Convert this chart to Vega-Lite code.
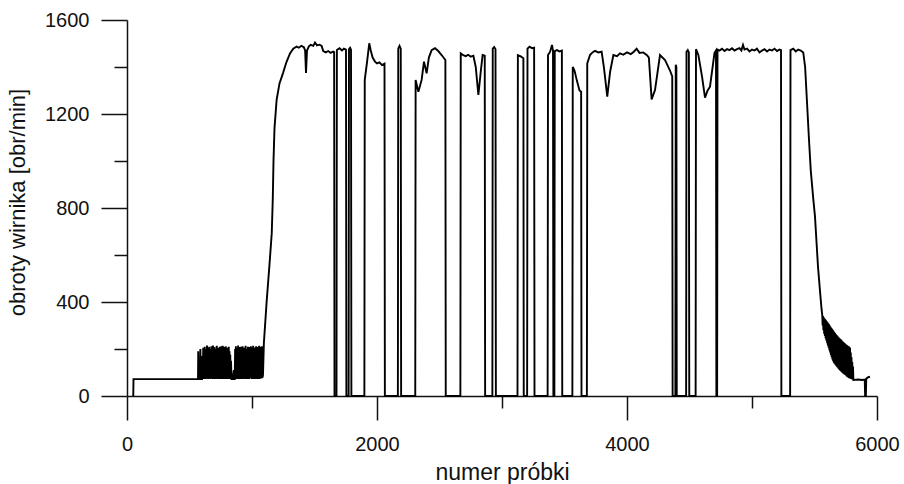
{
  "$schema": "https://vega.github.io/schema/vega-lite/v6.json",
  "width": 750,
  "height": 376,
  "autosize": "none",
  "padding": {"left": 127, "top": 20, "right": 27, "bottom": 88},
  "background": "white",
  "config": {"view": {"stroke": null}, "font": "Liberation Sans"},
  "data": {"values": [
    {"sample": 50, "rpm": 0}, {"sample": 52, "rpm": 72}, {"sample": 300, "rpm": 72}, {"sample": 565, "rpm": 72},
    {"sample": 568, "rpm": 72}, {"sample": 570, "rpm": 190}, {"sample": 573, "rpm": 72}, {"sample": 585, "rpm": 72}, {"sample": 587, "rpm": 200}, {"sample": 590, "rpm": 72}, {"sample": 600, "rpm": 72}, {"sample": 602, "rpm": 170}, {"sample": 605, "rpm": 72},
    {"sample": 610, "rpm": 205}, {"sample": 613, "rpm": 75}, {"sample": 616, "rpm": 190}, {"sample": 619, "rpm": 72}, {"sample": 622, "rpm": 210}, {"sample": 625, "rpm": 78}, {"sample": 628, "rpm": 160}, {"sample": 631, "rpm": 72}, {"sample": 634, "rpm": 200}, {"sample": 637, "rpm": 80}, {"sample": 640, "rpm": 215}, {"sample": 643, "rpm": 74}, {"sample": 646, "rpm": 185}, {"sample": 649, "rpm": 72}, {"sample": 652, "rpm": 205}, {"sample": 655, "rpm": 90}, {"sample": 658, "rpm": 210}, {"sample": 661, "rpm": 75}, {"sample": 664, "rpm": 175}, {"sample": 667, "rpm": 72}, {"sample": 670, "rpm": 200}, {"sample": 673, "rpm": 82}, {"sample": 676, "rpm": 212}, {"sample": 679, "rpm": 74}, {"sample": 682, "rpm": 195}, {"sample": 685, "rpm": 72}, {"sample": 688, "rpm": 215}, {"sample": 691, "rpm": 85}, {"sample": 694, "rpm": 180}, {"sample": 697, "rpm": 72}, {"sample": 700, "rpm": 208}, {"sample": 703, "rpm": 76}, {"sample": 706, "rpm": 200}, {"sample": 709, "rpm": 72}, {"sample": 712, "rpm": 190}, {"sample": 715, "rpm": 88}, {"sample": 718, "rpm": 214}, {"sample": 721, "rpm": 74}, {"sample": 724, "rpm": 170}, {"sample": 727, "rpm": 72}, {"sample": 730, "rpm": 205}, {"sample": 733, "rpm": 80}, {"sample": 736, "rpm": 195}, {"sample": 739, "rpm": 72}, {"sample": 742, "rpm": 210}, {"sample": 745, "rpm": 75}, {"sample": 748, "rpm": 188}, {"sample": 751, "rpm": 72}, {"sample": 754, "rpm": 212}, {"sample": 757, "rpm": 84}, {"sample": 760, "rpm": 200}, {"sample": 763, "rpm": 72}, {"sample": 766, "rpm": 214}, {"sample": 769, "rpm": 78}, {"sample": 772, "rpm": 185}, {"sample": 775, "rpm": 72}, {"sample": 778, "rpm": 208}, {"sample": 781, "rpm": 86}, {"sample": 784, "rpm": 196}, {"sample": 787, "rpm": 72}, {"sample": 790, "rpm": 212}, {"sample": 793, "rpm": 76}, {"sample": 796, "rpm": 180}, {"sample": 799, "rpm": 72}, {"sample": 802, "rpm": 205}, {"sample": 805, "rpm": 80}, {"sample": 808, "rpm": 198}, {"sample": 811, "rpm": 72}, {"sample": 814, "rpm": 210}, {"sample": 817, "rpm": 78}, {"sample": 820, "rpm": 190}, {"sample": 823, "rpm": 72}, {"sample": 826, "rpm": 175}, {"sample": 829, "rpm": 75}, {"sample": 832, "rpm": 150}, {"sample": 836, "rpm": 72},
    {"sample": 845, "rpm": 72}, {"sample": 855, "rpm": 110}, {"sample": 858, "rpm": 72}, {"sample": 862, "rpm": 72},
    {"sample": 865, "rpm": 200}, {"sample": 868, "rpm": 74}, {"sample": 871, "rpm": 212}, {"sample": 874, "rpm": 72}, {"sample": 877, "rpm": 190}, {"sample": 880, "rpm": 84}, {"sample": 883, "rpm": 205}, {"sample": 886, "rpm": 72}, {"sample": 889, "rpm": 215}, {"sample": 892, "rpm": 76}, {"sample": 895, "rpm": 180}, {"sample": 898, "rpm": 72}, {"sample": 901, "rpm": 208}, {"sample": 904, "rpm": 88}, {"sample": 907, "rpm": 200}, {"sample": 910, "rpm": 72}, {"sample": 913, "rpm": 210}, {"sample": 916, "rpm": 78}, {"sample": 919, "rpm": 175}, {"sample": 922, "rpm": 72}, {"sample": 925, "rpm": 212}, {"sample": 928, "rpm": 80}, {"sample": 931, "rpm": 195}, {"sample": 934, "rpm": 72}, {"sample": 937, "rpm": 205}, {"sample": 940, "rpm": 86}, {"sample": 943, "rpm": 190}, {"sample": 946, "rpm": 74}, {"sample": 949, "rpm": 214}, {"sample": 952, "rpm": 72}, {"sample": 955, "rpm": 200}, {"sample": 958, "rpm": 82}, {"sample": 961, "rpm": 185}, {"sample": 964, "rpm": 72}, {"sample": 967, "rpm": 210}, {"sample": 970, "rpm": 76}, {"sample": 973, "rpm": 200}, {"sample": 976, "rpm": 72}, {"sample": 979, "rpm": 208}, {"sample": 982, "rpm": 80}, {"sample": 985, "rpm": 195}, {"sample": 988, "rpm": 74}, {"sample": 991, "rpm": 212}, {"sample": 994, "rpm": 76}, {"sample": 997, "rpm": 205}, {"sample": 1000, "rpm": 72}, {"sample": 1003, "rpm": 198}, {"sample": 1006, "rpm": 78}, {"sample": 1009, "rpm": 214}, {"sample": 1012, "rpm": 72}, {"sample": 1015, "rpm": 188}, {"sample": 1018, "rpm": 84}, {"sample": 1021, "rpm": 206}, {"sample": 1024, "rpm": 72}, {"sample": 1027, "rpm": 200}, {"sample": 1030, "rpm": 76}, {"sample": 1033, "rpm": 212}, {"sample": 1036, "rpm": 72}, {"sample": 1039, "rpm": 190}, {"sample": 1042, "rpm": 80}, {"sample": 1045, "rpm": 208}, {"sample": 1048, "rpm": 72}, {"sample": 1051, "rpm": 200}, {"sample": 1054, "rpm": 78}, {"sample": 1057, "rpm": 214}, {"sample": 1060, "rpm": 72}, {"sample": 1063, "rpm": 195}, {"sample": 1066, "rpm": 82}, {"sample": 1069, "rpm": 210}, {"sample": 1072, "rpm": 74}, {"sample": 1075, "rpm": 205}, {"sample": 1078, "rpm": 76}, {"sample": 1081, "rpm": 212}, {"sample": 1084, "rpm": 78}, {"sample": 1088, "rpm": 90},
    {"sample": 1095, "rpm": 226}, {"sample": 1118, "rpm": 408}, {"sample": 1140, "rpm": 560}, {"sample": 1158, "rpm": 693}, {"sample": 1166, "rpm": 834}, {"sample": 1172, "rpm": 1000}, {"sample": 1180, "rpm": 1140}, {"sample": 1197, "rpm": 1260}, {"sample": 1220, "rpm": 1330}, {"sample": 1248, "rpm": 1374}, {"sample": 1275, "rpm": 1420}, {"sample": 1304, "rpm": 1458}, {"sample": 1330, "rpm": 1478}, {"sample": 1357, "rpm": 1487},
    {"sample": 1375, "rpm": 1482}, {"sample": 1395, "rpm": 1490}, {"sample": 1415, "rpm": 1484}, {"sample": 1425, "rpm": 1470}, {"sample": 1432, "rpm": 1375}, {"sample": 1440, "rpm": 1470}, {"sample": 1455, "rpm": 1488}, {"sample": 1470, "rpm": 1494}, {"sample": 1490, "rpm": 1490}, {"sample": 1504, "rpm": 1504}, {"sample": 1520, "rpm": 1492}, {"sample": 1540, "rpm": 1495}, {"sample": 1557, "rpm": 1490}, {"sample": 1570, "rpm": 1468}, {"sample": 1590, "rpm": 1462}, {"sample": 1610, "rpm": 1468}, {"sample": 1630, "rpm": 1460}, {"sample": 1650, "rpm": 1466}, {"sample": 1657, "rpm": 1464},
    {"sample": 1660, "rpm": 0}, {"sample": 1676, "rpm": 0}, {"sample": 1679, "rpm": 1472},
    {"sample": 1700, "rpm": 1480}, {"sample": 1720, "rpm": 1470}, {"sample": 1735, "rpm": 1478}, {"sample": 1752, "rpm": 1474}, {"sample": 1755, "rpm": 0}, {"sample": 1773, "rpm": 0}, {"sample": 1776, "rpm": 1476}, {"sample": 1785, "rpm": 1482}, {"sample": 1792, "rpm": 1474}, {"sample": 1795, "rpm": 0},
    {"sample": 1899, "rpm": 0}, {"sample": 1902, "rpm": 1345}, {"sample": 1920, "rpm": 1420}, {"sample": 1938, "rpm": 1501}, {"sample": 1950, "rpm": 1470}, {"sample": 1965, "rpm": 1440}, {"sample": 1984, "rpm": 1423}, {"sample": 2000, "rpm": 1415}, {"sample": 2020, "rpm": 1420}, {"sample": 2040, "rpm": 1408}, {"sample": 2060, "rpm": 1414}, {"sample": 2063, "rpm": 0},
    {"sample": 2167, "rpm": 0}, {"sample": 2170, "rpm": 1478}, {"sample": 2180, "rpm": 1490}, {"sample": 2190, "rpm": 1478}, {"sample": 2193, "rpm": 0},
    {"sample": 2306, "rpm": 0}, {"sample": 2309, "rpm": 1345}, {"sample": 2331, "rpm": 1295}, {"sample": 2357, "rpm": 1345}, {"sample": 2376, "rpm": 1423}, {"sample": 2397, "rpm": 1373}, {"sample": 2415, "rpm": 1440}, {"sample": 2437, "rpm": 1472}, {"sample": 2464, "rpm": 1480}, {"sample": 2490, "rpm": 1468}, {"sample": 2517, "rpm": 1451}, {"sample": 2547, "rpm": 1430}, {"sample": 2550, "rpm": 0},
    {"sample": 2667, "rpm": 0}, {"sample": 2670, "rpm": 1458}, {"sample": 2690, "rpm": 1450}, {"sample": 2710, "rpm": 1446}, {"sample": 2730, "rpm": 1452}, {"sample": 2750, "rpm": 1444}, {"sample": 2771, "rpm": 1448}, {"sample": 2790, "rpm": 1400}, {"sample": 2811, "rpm": 1281}, {"sample": 2830, "rpm": 1380}, {"sample": 2845, "rpm": 1451}, {"sample": 2862, "rpm": 1448}, {"sample": 2865, "rpm": 0},
    {"sample": 2923, "rpm": 0}, {"sample": 2926, "rpm": 1478}, {"sample": 2938, "rpm": 1485}, {"sample": 2948, "rpm": 1476}, {"sample": 2951, "rpm": 0},
    {"sample": 3124, "rpm": 0}, {"sample": 3127, "rpm": 1450}, {"sample": 3150, "rpm": 1445}, {"sample": 3171, "rpm": 1437}, {"sample": 3174, "rpm": 0},
    {"sample": 3201, "rpm": 0}, {"sample": 3204, "rpm": 1478}, {"sample": 3220, "rpm": 1486}, {"sample": 3240, "rpm": 1480}, {"sample": 3257, "rpm": 1482}, {"sample": 3260, "rpm": 0},
    {"sample": 3365, "rpm": 0}, {"sample": 3368, "rpm": 1451}, {"sample": 3385, "rpm": 1465}, {"sample": 3400, "rpm": 1494}, {"sample": 3408, "rpm": 1470}, {"sample": 3411, "rpm": 0}, {"sample": 3419, "rpm": 0}, {"sample": 3422, "rpm": 1468}, {"sample": 3440, "rpm": 1472}, {"sample": 3460, "rpm": 1466}, {"sample": 3479, "rpm": 1470}, {"sample": 3482, "rpm": 0},
    {"sample": 3563, "rpm": 0}, {"sample": 3566, "rpm": 1400}, {"sample": 3580, "rpm": 1385}, {"sample": 3600, "rpm": 1340}, {"sample": 3620, "rpm": 1300}, {"sample": 3633, "rpm": 1295}, {"sample": 3636, "rpm": 0},
    {"sample": 3679, "rpm": 0}, {"sample": 3682, "rpm": 1415}, {"sample": 3704, "rpm": 1451}, {"sample": 3724, "rpm": 1462}, {"sample": 3744, "rpm": 1469}, {"sample": 3770, "rpm": 1462}, {"sample": 3797, "rpm": 1465}, {"sample": 3815, "rpm": 1400}, {"sample": 3842, "rpm": 1274}, {"sample": 3865, "rpm": 1380}, {"sample": 3891, "rpm": 1451}, {"sample": 3920, "rpm": 1446}, {"sample": 3944, "rpm": 1458}, {"sample": 3970, "rpm": 1452}, {"sample": 4000, "rpm": 1462}, {"sample": 4030, "rpm": 1455}, {"sample": 4055, "rpm": 1465}, {"sample": 4077, "rpm": 1478}, {"sample": 4100, "rpm": 1460}, {"sample": 4130, "rpm": 1462}, {"sample": 4160, "rpm": 1450}, {"sample": 4175, "rpm": 1440}, {"sample": 4197, "rpm": 1262}, {"sample": 4224, "rpm": 1302}, {"sample": 4264, "rpm": 1451}, {"sample": 4304, "rpm": 1430}, {"sample": 4344, "rpm": 1385}, {"sample": 4362, "rpm": 1360}, {"sample": 4365, "rpm": 0},
    {"sample": 4387, "rpm": 0}, {"sample": 4390, "rpm": 1410}, {"sample": 4395, "rpm": 1400}, {"sample": 4398, "rpm": 0},
    {"sample": 4473, "rpm": 0}, {"sample": 4476, "rpm": 1465}, {"sample": 4486, "rpm": 1472}, {"sample": 4495, "rpm": 1462}, {"sample": 4498, "rpm": 0},
    {"sample": 4549, "rpm": 0}, {"sample": 4552, "rpm": 1476}, {"sample": 4571, "rpm": 1451}, {"sample": 4600, "rpm": 1360}, {"sample": 4624, "rpm": 1270}, {"sample": 4645, "rpm": 1300}, {"sample": 4664, "rpm": 1316}, {"sample": 4680, "rpm": 1380}, {"sample": 4700, "rpm": 1460}, {"sample": 4712, "rpm": 1470}, {"sample": 4715, "rpm": 0}, {"sample": 4721, "rpm": 0}, {"sample": 4724, "rpm": 1474},
    {"sample": 4740, "rpm": 1470}, {"sample": 4760, "rpm": 1478}, {"sample": 4780, "rpm": 1468}, {"sample": 4800, "rpm": 1476}, {"sample": 4820, "rpm": 1472}, {"sample": 4840, "rpm": 1480}, {"sample": 4860, "rpm": 1470}, {"sample": 4880, "rpm": 1476}, {"sample": 4900, "rpm": 1480}, {"sample": 4915, "rpm": 1470}, {"sample": 4928, "rpm": 1494}, {"sample": 4940, "rpm": 1474}, {"sample": 4960, "rpm": 1478}, {"sample": 4980, "rpm": 1466}, {"sample": 5000, "rpm": 1474}, {"sample": 5020, "rpm": 1470}, {"sample": 5040, "rpm": 1478}, {"sample": 5060, "rpm": 1462}, {"sample": 5080, "rpm": 1470}, {"sample": 5100, "rpm": 1476}, {"sample": 5120, "rpm": 1466}, {"sample": 5140, "rpm": 1474}, {"sample": 5160, "rpm": 1470}, {"sample": 5180, "rpm": 1478}, {"sample": 5200, "rpm": 1468}, {"sample": 5220, "rpm": 1474}, {"sample": 5232, "rpm": 1472}, {"sample": 5235, "rpm": 0},
    {"sample": 5305, "rpm": 0}, {"sample": 5308, "rpm": 1472}, {"sample": 5330, "rpm": 1478}, {"sample": 5350, "rpm": 1466}, {"sample": 5370, "rpm": 1474}, {"sample": 5390, "rpm": 1470}, {"sample": 5410, "rpm": 1462},
    {"sample": 5425, "rpm": 1400}, {"sample": 5440, "rpm": 1250}, {"sample": 5455, "rpm": 1100}, {"sample": 5470, "rpm": 960}, {"sample": 5490, "rpm": 840}, {"sample": 5504, "rpm": 763}, {"sample": 5520, "rpm": 620}, {"sample": 5528, "rpm": 550}, {"sample": 5545, "rpm": 440}, {"sample": 5557, "rpm": 366},
    {"sample": 5562, "rpm": 345}, {"sample": 5565, "rpm": 300}, {"sample": 5568, "rpm": 340}, {"sample": 5571, "rpm": 280}, {"sample": 5574, "rpm": 335}, {"sample": 5577, "rpm": 265}, {"sample": 5580, "rpm": 330}, {"sample": 5583, "rpm": 255}, {"sample": 5586, "rpm": 326}, {"sample": 5589, "rpm": 245}, {"sample": 5592, "rpm": 322}, {"sample": 5595, "rpm": 235}, {"sample": 5598, "rpm": 318}, {"sample": 5601, "rpm": 225}, {"sample": 5604, "rpm": 314}, {"sample": 5607, "rpm": 215}, {"sample": 5610, "rpm": 310}, {"sample": 5613, "rpm": 205}, {"sample": 5616, "rpm": 305}, {"sample": 5619, "rpm": 195}, {"sample": 5622, "rpm": 300}, {"sample": 5625, "rpm": 185}, {"sample": 5628, "rpm": 295}, {"sample": 5631, "rpm": 175}, {"sample": 5634, "rpm": 290}, {"sample": 5637, "rpm": 165}, {"sample": 5640, "rpm": 286}, {"sample": 5643, "rpm": 155}, {"sample": 5646, "rpm": 282}, {"sample": 5649, "rpm": 148}, {"sample": 5652, "rpm": 278}, {"sample": 5655, "rpm": 142}, {"sample": 5658, "rpm": 272}, {"sample": 5661, "rpm": 137}, {"sample": 5664, "rpm": 268}, {"sample": 5667, "rpm": 133}, {"sample": 5670, "rpm": 264}, {"sample": 5673, "rpm": 129}, {"sample": 5676, "rpm": 260}, {"sample": 5679, "rpm": 125}, {"sample": 5682, "rpm": 256}, {"sample": 5685, "rpm": 121}, {"sample": 5688, "rpm": 252}, {"sample": 5691, "rpm": 117}, {"sample": 5694, "rpm": 249}, {"sample": 5697, "rpm": 113}, {"sample": 5700, "rpm": 246}, {"sample": 5703, "rpm": 110}, {"sample": 5706, "rpm": 243}, {"sample": 5709, "rpm": 106}, {"sample": 5712, "rpm": 240}, {"sample": 5715, "rpm": 103}, {"sample": 5718, "rpm": 236}, {"sample": 5721, "rpm": 100}, {"sample": 5724, "rpm": 233}, {"sample": 5727, "rpm": 97}, {"sample": 5730, "rpm": 230}, {"sample": 5733, "rpm": 95}, {"sample": 5736, "rpm": 227}, {"sample": 5739, "rpm": 92}, {"sample": 5742, "rpm": 224}, {"sample": 5745, "rpm": 90}, {"sample": 5748, "rpm": 221}, {"sample": 5751, "rpm": 87}, {"sample": 5754, "rpm": 218}, {"sample": 5757, "rpm": 84}, {"sample": 5760, "rpm": 216}, {"sample": 5763, "rpm": 81}, {"sample": 5766, "rpm": 214}, {"sample": 5769, "rpm": 79}, {"sample": 5772, "rpm": 212}, {"sample": 5775, "rpm": 77}, {"sample": 5778, "rpm": 210}, {"sample": 5781, "rpm": 75}, {"sample": 5784, "rpm": 205}, {"sample": 5787, "rpm": 74}, {"sample": 5790, "rpm": 185}, {"sample": 5793, "rpm": 72}, {"sample": 5796, "rpm": 165}, {"sample": 5799, "rpm": 71}, {"sample": 5802, "rpm": 145}, {"sample": 5805, "rpm": 70}, {"sample": 5808, "rpm": 125}, {"sample": 5811, "rpm": 68},
    {"sample": 5850, "rpm": 70}, {"sample": 5880, "rpm": 68}, {"sample": 5902, "rpm": 70}, {"sample": 5905, "rpm": 0}, {"sample": 5911, "rpm": 0}, {"sample": 5914, "rpm": 74}, {"sample": 5930, "rpm": 80}, {"sample": 5944, "rpm": 82}
  ]},
  "layer": [
    {
      "mark": {"type": "line", "color": "black", "strokeWidth": 1.9},
      "encoding": {
        "x": {"field": "sample", "type": "quantitative", "scale": {"domain": [0, 6000], "nice": false},
          "axis": {"values": [0, 2000, 4000, 6000], "format": "d", "tickSize": 24, "tickWidth": 1.5, "tickColor": "#111", "domainColor": "#111", "domainWidth": 1.5, "grid": false,
            "labelFontSize": 20, "labelPadding": 14, "labelColor": "#111", "labelFont": "Liberation Sans", "labelFlush": false,
            "title": "numer próbki", "titleFontSize": 23, "titleFontWeight": "normal", "titleColor": "#111", "titleFont": "Liberation Sans", "titleBaseline": "alphabetic", "titleY": 83}},
        "y": {"field": "rpm", "type": "quantitative", "scale": {"domain": [0, 1600], "nice": false},
          "axis": {"values": [0, 400, 800, 1200, 1600], "format": "d", "tickSize": 26, "tickWidth": 1.5, "tickColor": "#111", "domainColor": "#111", "domainWidth": 1.5, "grid": false,
            "labelFontSize": 20, "labelPadding": 12, "labelColor": "#111", "labelFont": "Liberation Sans", "labelFlush": false,
            "title": "obroty wirnika [obr/min]", "titleFontSize": 22, "titleFontWeight": "normal", "titleColor": "#111", "titleFont": "Liberation Sans", "titleBaseline": "alphabetic", "titleX": -103, "titleY": 182, "titleAngle": 270}}
      }
    },
    {
      "mark": {"type": "point", "opacity": 0},
      "encoding": {
        "x": {"field": "sample", "type": "quantitative", "scale": {"domain": [0, 6000], "nice": false},
          "axis": {"orient": "bottom", "values": [1000, 3000, 5000], "tickSize": 12, "tickWidth": 1.5, "tickColor": "#111", "labels": false, "domain": false, "grid": false, "title": null}},
        "y": {"field": "rpm", "type": "quantitative", "scale": {"domain": [0, 1600], "nice": false},
          "axis": {"orient": "left", "values": [200, 600, 1000, 1400], "tickSize": 13, "tickWidth": 1.5, "tickColor": "#111", "labels": false, "domain": false, "grid": false, "title": null}}
      }
    }
  ],
  "resolve": {"axis": {"x": "independent", "y": "independent"}}
}
